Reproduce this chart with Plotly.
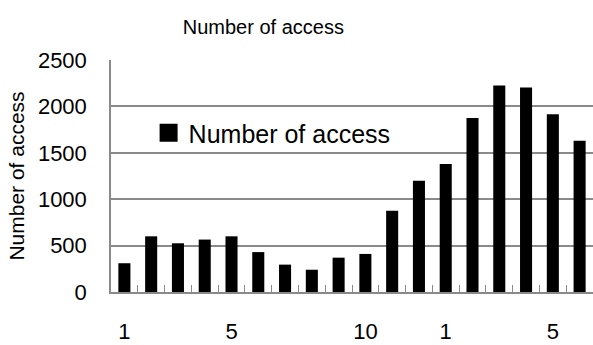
import plotly.graph_objects as go

# Monthly access counts over 18 consecutive months (Jan..Dec, then Jan..Jun)
months = [1, 2, 3, 4, 5, 6, 7, 8, 9, 10, 11, 12, 1, 2, 3, 4, 5, 6]
access = [310, 600, 525, 565, 600, 430, 295, 240, 370, 410,
          875, 1200, 1380, 1875, 2225, 2205, 1915, 1630]
labelled_months = [1, 5, 10]

series_name = "Number of access"
font_family = "Liberation Sans, Arial, sans-serif"
grey = "#8a8a8a"

x_pos = list(range(len(access)))
tick_idx = [i for i, m in enumerate(months) if m in labelled_months]
tick_txt = [str(months[i]) for i in tick_idx]

fig = go.Figure()
fig.add_trace(go.Bar(
    x=x_pos, y=access, width=0.45,
    marker=dict(color="black", line=dict(width=0)),
    name=series_name, showlegend=False,
))
# legend key drawn as a larger square marker
fig.add_trace(go.Scatter(
    x=[None], y=[None], mode="markers", name=series_name,
    marker=dict(symbol="square", size=16, color="black",
                line=dict(color="black", width=2)),
    showlegend=True,
))

fig.update_layout(
    width=593, height=345,
    margin=dict(l=111, r=0, t=60, b=53, autoexpand=False),
    paper_bgcolor="white", plot_bgcolor="white",
    font=dict(family=font_family, color="black"),
    title=dict(text=series_name, x=0.444, xanchor="center",
               y=1 - 27 / 345, yanchor="middle",
               font=dict(size=20, family=font_family)),
    legend=dict(x=0.078, y=0.685, xanchor="left", yanchor="middle",
                bgcolor="rgba(0,0,0,0)", font=dict(size=25),
                itemsizing="trace"),
    bargap=0.55,
)

fig.update_xaxes(
    automargin=False,
    range=[-0.5, len(access) - 0.5],
    tickmode="array", tickvals=tick_idx, ticktext=tick_txt,
    ticks="inside", ticklen=0, tickcolor="rgba(0,0,0,0)",
    ticklabelstandoff=19,
    tickfont=dict(size=22),
    showgrid=False, zeroline=False,
    showline=True, linecolor=grey, linewidth=1.5,
    minor=dict(ticks="inside", tickmode="linear", tick0=0.5, dtick=1,
               ticklen=7, tickcolor=grey, tickwidth=1, showgrid=False),
)
fig.update_yaxes(
    automargin=False,
    range=[0, 2500], dtick=500,
    tickfont=dict(size=22), ticks="", ticklabelstandoff=18,
    showgrid=True, gridcolor=grey, gridwidth=1.5,
    zeroline=False,
    showline=True, linecolor=grey, linewidth=1.5,
    title=dict(text=series_name, font=dict(size=21), standoff=8),
)

fig.write_html("out.html")
